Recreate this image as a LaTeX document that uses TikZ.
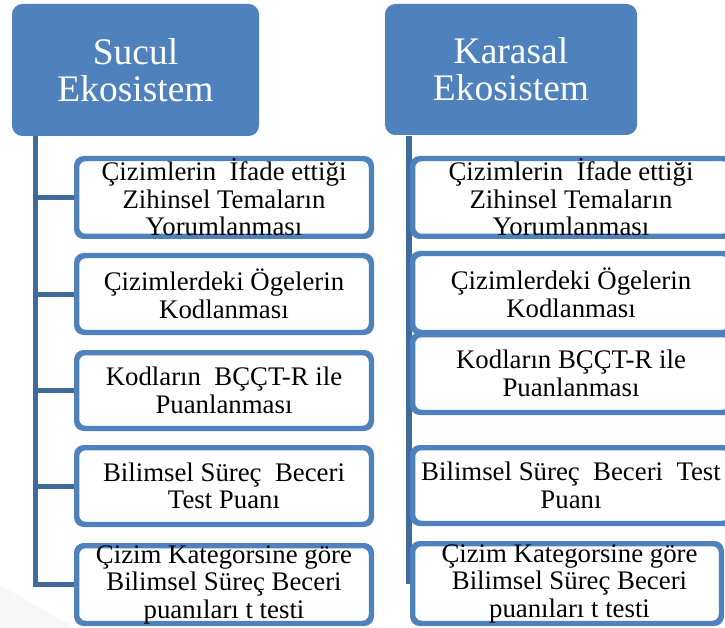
\documentclass[tikz,border=0pt]{standalone}
\usepackage{fontspec}
\setmainfont{Liberation Serif}
\newfontfamily\boxfont{Liberation Serif}
\usetikzlibrary{positioning}

\definecolor{headblue}{HTML}{4F81BD}
\definecolor{edgeblue}{HTML}{4F81BD}
\definecolor{trunkblue}{HTML}{3E6A9C}

\tikzset{
  headbox/.style={draw=headblue, fill=headblue, rounded corners=10pt, line width=1pt,
    text=white, align=center, font=\boxfont\fontsize{37.5}{37}\selectfont},
  childbox/.style={draw=edgeblue, fill=white, rounded corners=8pt, line width=3.5pt,
    minimum width=293pt},
  childtext/.style={align=center, inner sep=0pt, font=\boxfont\fontsize{26.8}{27.5}\selectfont},
  trunk/.style={draw=trunkblue, line width=5pt},
}

\begin{document}
\begin{tikzpicture}[x=1pt, y=-1pt]
\useasboundingbox (0,0) rectangle (725,628);
\clip (0,0) rectangle (725,628);
\fill[gray!6] (0,585) -- (75,628) -- (0,628) -- cycle;

% heads
\node[headbox, minimum width=246pt, minimum height=131pt] (hs) at (135.5,70) {Sucul\\Ekosistem};
\node[headbox, minimum width=251pt, minimum height=130pt] (hk) at (511,69.5) {Karasal\\Ekosistem};

\coordinate (st) at (35,136);
\coordinate (kt) at (408.5,136);

% Sucul boxes
\node[childbox, minimum height=76pt] (s1) at (224,197.5) {};
\node[childbox, minimum height=75pt] (s2) at (224,294) {};
\node[childbox, minimum height=74pt] (s3) at (224,390.5) {};
\node[childbox, minimum height=75pt] (s4) at (224,486) {};
\node[childbox, minimum height=76pt] (s5) at (224,584.5) {};

% Karasal boxes
\node[childbox, minimum width=317pt, minimum height=76pt] (k1) at (572,197.5) {};
\node[childbox, minimum width=317pt, minimum height=77pt] (k2) at (572,293) {};
\node[childbox, minimum width=317pt, minimum height=76pt] (k3) at (572,373.5) {};
\node[childbox, minimum width=317pt, minimum height=74pt] (k4) at (572,485.5) {};
\node[childbox, minimum width=307pt, minimum height=78pt] (k5) at (567,583.5) {};

% trunks and branches
\draw[trunk] (st) |- (s5.west);
\foreach \i in {1,2,3,4} {
  \draw[trunk] (s\i.west) -- (s\i.west -| st);
}
\draw[trunk, line width=6pt] (kt) -- (kt |- k5.west);

% redraw box edges over the branch ends
\foreach \b in {s1,s2,s3,s4,s5,k1,k2,k3,k4,k5} {
  \draw[draw=edgeblue, line width=3.5pt, rounded corners=8pt]
    (\b.south west) rectangle (\b.north east);
}

% texts
\node[childtext] (s1t) at (s1) {Çizimlerin\ \ İfade ettiği\\Zihinsel Temaların\\Yorumlanması};
\node[childtext] (s2t) at (s2) {Çizimlerdeki Ögelerin\\Kodlanması};
\node[childtext] (s3t) at (s3) {Kodların\ \ BÇÇT-R ile\\Puanlanması};
\node[childtext] (s4t) at (s4) {Bilimsel Süreç\ \ Beceri\\Test Puanı};
\node[childtext] (s5t) at (s5) {Çizim Kategorsine göre\\Bilimsel Süreç Beceri\\puanıları t testi};

\node[childtext] (k1t) at (571,197.5) {Çizimlerin\ \ İfade ettiği\\Zihinsel Temaların\\Yorumlanması};
\node[childtext] (k2t) at (571,293) {Çizimlerdeki Ögelerin\\Kodlanması};
\node[childtext] (k3t) at (571,373.5) {Kodların BÇÇT-R ile\\Puanlanması};
\node[childtext] (k4t) at (571,485.5) {Bilimsel Süreç\ \ Beceri\ \ Test\\Puanı};
\node[childtext] (k5t) at (569.5,583.5) {Çizim Kategorsine göre\\Bilimsel Süreç Beceri\\puanıları t testi};
\end{tikzpicture}
\end{document}
